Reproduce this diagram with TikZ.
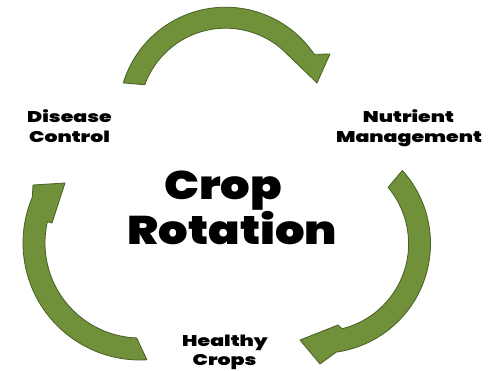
\documentclass[tikz,border=0pt]{standalone}
\usepackage{fontspec}
\usetikzlibrary{calc}
\newfontfamily\heavy{Poppins Black}[FakeStretch=1.32]
\newfontfamily\heavyt{Poppins Black}[FakeStretch=1.16]
\definecolor{agreen}{RGB}{112,144,58}
\definecolor{adark}{RGB}{72,96,36}
\begin{document}
\begin{tikzpicture}[x=1pt,y=-1pt,
  arrowshape/.style={fill=agreen, draw=adark, line width=0.8pt, line join=round},
  lbl/.style={font=\heavy\fontsize{15.5}{15.5}\selectfont, anchor=base, inner sep=0pt},
  ttl/.style={font=\heavyt\fontsize{40}{40}\selectfont, anchor=base, inner sep=0pt}]
\useasboundingbox (0,0) rectangle (488,371);
\fill[white] (0,0) rectangle (488,371);
\coordinate (T) at (225.6,114.2);
\coordinate (R) at (321,243.7);
\coordinate (L) at (140,243);
% top arrow
\draw[arrowshape] ($(T)+(197:107)$) arc[start angle=197,end angle=326,radius=107]
  -- (330,54) -- (317,83) -- (286,53) -- ($(T)+(318:86)$)
  arc[start angle=318,end angle=200,radius=86] -- cycle;
% right arrow
\draw[arrowshape] ($(R)+(318:109.5)$) arc[start angle=318,end angle=442,radius=109.5]
  -- (320,364) -- (300,340) -- (338,325) -- ($(R)+(436:87.6)$)
  arc[start angle=436,end angle=320,radius=87.6] -- cycle;
% left arrow
\draw[arrowshape] ($(L)+(86.6:117)$) arc[start angle=86.6,end angle=203,radius=117]
  -- (33,185) -- (65,183) -- (52,223) -- ($(L)+(193:95)$)
  arc[start angle=193,end angle=92,radius=95] -- cycle;
% texts
\node[ttl] (crop) at (223,200) {Crop};
\node[ttl] (rotation) at (232.5,245) {Rotation};
\node[lbl] (disease) at (69.5,123) {Disease};
\node[lbl] (control) at (69.5,143) {Control};
\node[lbl] (nutrient) at (408.5,123) {Nutrient};
\node[lbl] (management) at (409,143) {Management};
\node[lbl] (healthy) at (225,347) {Healthy};
\node[lbl] (crops) at (224.5,366) {Crops};
\end{tikzpicture}
\end{document}
